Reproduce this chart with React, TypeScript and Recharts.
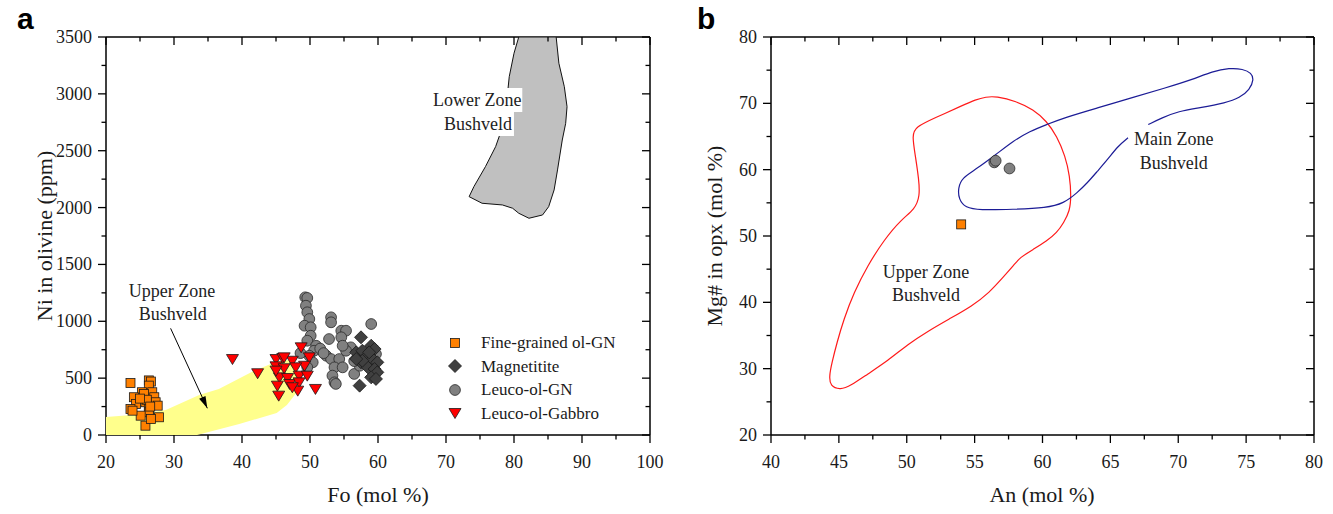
import React from 'react';
import { ScatterChart, Scatter, XAxis, YAxis } from 'recharts';

const SERIF = '"Liberation Serif", "Times New Roman", serif';
const SANS = '"Liberation Sans", Arial, sans-serif';

type Pair = [number, number];

// ---- panel a: Ni in olivine vs Fo ----
const foTicks = [20, 25, 30, 35, 40, 45, 50, 55, 60, 65, 70, 75, 80, 85, 90, 95, 100];
const niTicks = [0, 250, 500, 750, 1000, 1250, 1500, 1750, 2000, 2250, 2500, 2750, 3000, 3250, 3500];

const fineGrainedOlGN: Pair[] = [
  [23.6, 457], [26.3, 480], [26.6, 470], [26.3, 434], [25.3, 376], [26.8, 376], [24.1, 332], [25.6, 361],
  [27.1, 332], [24.4, 273], [25.8, 288], [27.3, 288], [23.6, 229], [26.3, 229], [27.6, 258], [26.3, 200],
  [27.8, 156], [25.8, 82], [26.6, 141], [25.1, 170], [23.9, 214], [26.0, 310], [25.0, 320], [26.5, 250],
];
const magnetitite: Pair[] = [
  [57.5, 859], [56.8, 727], [57.7, 741], [59.0, 785], [59.5, 756], [58.2, 683], [59.2, 668], [59.9, 639],
  [57.5, 639], [58.5, 595], [59.5, 580], [59.9, 551], [59.0, 507], [59.7, 493], [57.3, 434], [57.7, 653],
  [56.8, 668], [58.7, 727],
];
const leucoOlGN: Pair[] = [
  [49.3, 1211], [49.6, 1205], [49.4, 1137], [49.6, 1079], [49.9, 1020], [49.2, 961], [50.1, 947], [50.1, 873],
  [49.6, 829], [50.9, 785], [50.6, 741], [49.9, 697], [50.4, 639], [49.6, 595], [48.6, 720], [51.5, 760],
  [53.1, 1035], [53.1, 991], [54.6, 917], [55.3, 917], [52.8, 844], [54.6, 859], [52.4, 697], [53.1, 668],
  [54.3, 668], [53.6, 595], [54.8, 595], [53.3, 522], [53.6, 463], [53.8, 449], [56.0, 771], [55.3, 741],
  [54.8, 785], [52.0, 720], [59.0, 976], [56.5, 537], [59.7, 712], [57.3, 609], [58.0, 639], [57.0, 700],
  [56.5, 650],
];
const leucoOlGabbro: Pair[] = [
  [38.6, 668], [42.3, 543], [45.0, 668], [46.0, 677], [45.0, 604], [46.2, 587], [47.4, 653], [48.7, 771],
  [49.9, 683], [49.2, 609], [47.9, 595], [45.5, 507], [46.7, 501], [48.4, 522], [49.6, 522], [45.2, 434],
  [47.0, 449], [48.4, 463], [48.2, 390], [45.4, 346], [50.8, 405], [47.4, 420], [45.0, 566], [46.2, 683],
];
// Upper Zone Bushveld field (yellow)
const upperZoneA: Pair[] = [
  [20.0, 158], [23.8, 176], [28.8, 220], [33.7, 352], [36.6, 405], [41.5, 557], [45.0, 645], [46.9, 660],
  [48.2, 554], [48.1, 378], [46.6, 264], [45.1, 193], [39.6, 97], [33.4, 0], [20.0, 0],
];
// Lower Zone Bushveld field (grey)
const lowerZoneA: Pair[] = [
  [86.2, 3500], [86.6, 3269], [87.4, 3063], [87.8, 2887], [87.6, 2741], [87.1, 2594], [86.4, 2331], [85.9, 2155],
  [85.1, 2008], [84.2, 1935], [82.2, 1906], [80.7, 1950], [79.8, 1994], [78.3, 2023], [75.3, 2038], [73.4, 2096],
  [74.1, 2184], [75.8, 2360], [77.3, 2536], [78.5, 2741], [79.0, 2975], [79.3, 3151], [80.0, 3357], [80.7, 3500],
];
const labelsA = [
  { x: 74.6, y: 2946, text: 'Lower Zone', box: true },
  { x: 74.7, y: 2735, text: 'Bushveld', box: true },
  { x: 29.7, y: 1266, text: 'Upper Zone' },
  { x: 29.8, y: 1064, text: 'Bushveld' },
];
const arrowA = [
  { x: 29.5, y: 938 },
  { x: 34.9, y: 235, head: true },
];

// ---- panel b: Mg# in opx vs An ----
const anTicks = [40, 42.5, 45, 47.5, 50, 52.5, 55, 57.5, 60, 62.5, 65, 67.5, 70, 72.5, 75, 77.5, 80];
const mgTicks = [20, 25, 30, 35, 40, 45, 50, 55, 60, 65, 70, 75, 80];

const upperZoneB: Pair[] = [
  [56.58, 71.07], [58.07, 70.32], [59.32, 69.06], [60.31, 67.31], [61.06, 65.05], [61.68, 62.04], [62.01, 59.03],
  [62.11, 56.02], [62.01, 53.76], [61.56, 52.0], [61.06, 50.5], [60.31, 49.24], [59.32, 47.99], [58.32, 46.73],
  [57.95, 45.73], [57.07, 43.72], [56.08, 41.47], [54.83, 39.46], [53.09, 37.45], [51.59, 35.69], [50.09, 33.69],
  [48.6, 31.18], [47.1, 29.17], [45.86, 27.42], [45.11, 26.81], [44.36, 27.32], [44.29, 28.92], [44.49, 30.93],
  [44.86, 33.94], [45.36, 37.45], [46.11, 41.47], [47.1, 45.48], [48.35, 49.49], [49.6, 52.5], [50.59, 54.01],
  [50.97, 56.02], [50.89, 58.52], [50.64, 62.04], [50.39, 65.15], [50.64, 66.45], [52.09, 67.81], [54.08, 69.66],
  [55.08, 70.57], [55.83, 70.97],
];
const mainZoneB: Pair[] = [
  [67.79, 66.8], [68.79, 67.81], [70.03, 68.81], [71.53, 69.31], [73.52, 70.07], [74.52, 70.82], [75.27, 72.07],
  [75.57, 73.58], [75.39, 74.58], [74.77, 75.18], [73.77, 75.33], [72.53, 74.83], [71.03, 73.58], [69.04, 72.32],
  [66.55, 70.82], [64.05, 69.31], [61.56, 67.81], [60.31, 66.8], [59.07, 65.8], [57.82, 64.29], [56.58, 62.29],
  [55.08, 60.03], [54.08, 58.78], [53.78, 57.27], [53.83, 55.51], [54.33, 54.26], [55.33, 53.91], [57.82, 54.01],
  [60.31, 54.26], [61.56, 54.91], [62.56, 56.52], [63.31, 58.02], [64.05, 59.78], [64.8, 61.54], [65.55, 63.54],
  [66.3, 64.8],
];
const leucoOlGNB: Pair[] = [[56.45, 61.1], [56.55, 61.35], [57.57, 60.18]];
const fineGrainedB: Pair[] = [[54.01, 51.75]];
const labelsB = [
  { x: 51.42, y: 44.58, text: 'Upper Zone' },
  { x: 51.42, y: 41.11, text: 'Bushveld' },
  { x: 69.66, y: 64.55, text: 'Main Zone' },
  { x: 69.66, y: 61.03, text: 'Bushveld' },
];

const pts = (a: Pair[]) => a.map(([x, y]) => ({ x, y }));

// symbols
const Square = (p: any) => (
  <rect x={p.cx - 4.5} y={p.cy - 4.5} width={9} height={9} fill="#ff8000" stroke="#1a1a1a" strokeWidth={0.8} />
);
const Diamond = (p: any) => (
  <polygon
    points={`${p.cx},${p.cy - 6.5} ${p.cx + 6.5},${p.cy} ${p.cx},${p.cy + 6.5} ${p.cx - 6.5},${p.cy}`}
    fill="#404040"
    stroke="#1a1a1a"
    strokeWidth={0.8}
  />
);
const Circle = (p: any) => <circle cx={p.cx} cy={p.cy} r={5.4} fill="#808080" stroke="#2a2a2a" strokeWidth={0.8} />;
const TriDown = (p: any) => (
  <polygon
    points={`${p.cx - 6},${p.cy - 4.5} ${p.cx + 6},${p.cy - 4.5} ${p.cx},${p.cy + 5.5}`}
    fill="#ff0000"
    stroke="#1a1a1a"
    strokeWidth={0.8}
  />
);
const Nothing = () => <g />;

const TextLabel = (p: any) => {
  const t: string = p.payload.text;
  const w = t.length * 9;
  return (
    <g>
      {p.payload.box && <rect x={p.cx - w / 2} y={p.cy - 12} width={w} height={24} fill="#fff" />}
      <text x={p.cx} y={p.cy + 6} textAnchor="middle" fontFamily={SERIF} fontSize={18} fill="#222">
        {t}
      </text>
    </g>
  );
};

const ArrowHead = (p: any) =>
  p.payload.head ? (
    <polygon points="0,0 -12,-3.5 -12,3.5" transform={`translate(${p.cx},${p.cy}) rotate(65.4)`} fill="#000" />
  ) : (
    <g />
  );

const legendA = [
  { name: 'Fine-grained ol-GN', shape: Square },
  { name: 'Magnetitite', shape: Diamond },
  { name: 'Leuco-ol-GN', shape: Circle },
  { name: 'Leuco-ol-Gabbro', shape: TriDown },
];

type Side = 'bottom' | 'top' | 'left' | 'right';

const makeTick = (side: Side, major: number) => (props: any) => {
  const { x, y, payload } = props;
  const v = payload.value as number;
  const isMajor = Math.abs(v / major - Math.round(v / major)) < 1e-6;
  const len = isMajor ? 8 : 4.5;
  let line: React.ReactNode;
  if (side === 'bottom' || side === 'top') line = <line x1={x} y1={y} x2={x} y2={y + len} stroke="#000" strokeWidth={1.3} />;
  else line = <line x1={x - len} y1={y} x2={x} y2={y} stroke="#000" strokeWidth={1.3} />;
  return (
    <g>
      {line}
      {isMajor && side === 'bottom' && (
        <text x={x} y={y + 33} textAnchor="middle" fontFamily={SERIF} fontSize={18} fill="#1a1a1a">
          {v}
        </text>
      )}
      {isMajor && side === 'left' && (
        <text x={x - 14} y={y + 6} textAnchor="end" fontFamily={SERIF} fontSize={18} fill="#1a1a1a">
          {v}
        </text>
      )}
    </g>
  );
};

// axes are 1px thick (0 would not be drawn), margins below are reduced by 1 accordingly
function frame(xDomain: [number, number], yDomain: [number, number], xTicks: number[], yTicks: number[], xMajor: number, yMajor: number) {
  const common = {
    type: 'number' as const,
    allowDataOverflow: true,
    tickSize: 0,
    tickMargin: 0,
    tickLine: false,
    interval: 0 as const,
    axisLine: { stroke: '#000', strokeWidth: 1.5 },
  };
  return [
    <XAxis key="xb" dataKey="x" xAxisId={0} orientation="bottom" height={1} domain={xDomain} ticks={xTicks} tick={makeTick('bottom', xMajor)} {...common} />,
    <XAxis key="xt" dataKey="x" xAxisId="top" orientation="top" height={1} domain={xDomain} ticks={xTicks} tick={makeTick('top', xMajor)} {...common} />,
    <YAxis key="yl" dataKey="y" yAxisId={0} orientation="left" width={1} domain={yDomain} ticks={yTicks} tick={makeTick('left', yMajor)} {...common} />,
    <YAxis key="yr" dataKey="y" yAxisId="right" orientation="right" width={1} domain={yDomain} ticks={yTicks} tick={makeTick('right', yMajor)} {...common} />,
  ];
}

const abs = (left: number, top: number): React.CSSProperties => ({ position: 'absolute', left, top });

const Title = ({ x, y, text, rotate }: { x: number; y: number; text: string; rotate?: boolean }) => (
  <div
    style={{
      ...abs(x, y),
      transform: `translate(-50%, -50%)${rotate ? ' rotate(-90deg)' : ''}`,
      fontFamily: SERIF,
      fontSize: 22,
      lineHeight: 1,
      whiteSpace: 'nowrap',
      color: '#1a1a1a',
    }}
  >
    {text}
  </div>
);

export default function App() {
  return (
    <div style={{ position: 'absolute', left: 0, top: 0, width: 1333, height: 514, background: '#fff', overflow: 'hidden' }}>
      <div style={abs(0, 0)}>
        <ScatterChart width={670} height={514} margin={{ top: 36, right: 19, bottom: 78, left: 105 }}>
          {frame([20, 100], [0, 3500], foTicks, niTicks, 10, 500)}
          <Scatter data={pts(upperZoneA)} shape={Nothing} line={{ fill: '#ffff8c', stroke: 'none' }} lineJointType="linear" isAnimationActive={false} />
          <Scatter data={pts(lowerZoneA)} shape={Nothing} line={{ fill: '#c0c0c0', stroke: '#111', strokeWidth: 1 }} lineJointType="linearClosed" isAnimationActive={false} />
          <Scatter data={arrowA} shape={ArrowHead} line={{ stroke: '#000', strokeWidth: 1 }} lineJointType="linear" isAnimationActive={false} />
          <Scatter data={labelsA} shape={TextLabel} isAnimationActive={false} />
          <Scatter data={pts(leucoOlGN)} shape={Circle} isAnimationActive={false} />
          <Scatter data={pts(magnetitite)} shape={Diamond} isAnimationActive={false} />
          <Scatter data={pts(fineGrainedOlGN)} shape={Square} isAnimationActive={false} />
          <Scatter data={pts(leucoOlGabbro)} shape={TriDown} isAnimationActive={false} />
        </ScatterChart>
      </div>
      <div style={abs(667, 0)}>
        <ScatterChart width={666} height={514} margin={{ top: 36, right: 18, bottom: 78, left: 103 }}>
          {frame([40, 80], [20, 80], anTicks, mgTicks, 5, 10)}
          <Scatter data={pts(upperZoneB)} shape={Nothing} line={{ fill: 'none', stroke: '#ff1a1a', strokeWidth: 1.2 }} lineJointType="basisClosed" isAnimationActive={false} />
          <Scatter data={pts(mainZoneB)} shape={Nothing} line={{ fill: 'none', stroke: '#1c1c96', strokeWidth: 1.2 }} lineJointType="basis" isAnimationActive={false} />
          <Scatter data={labelsB} shape={TextLabel} isAnimationActive={false} />
          <Scatter data={pts(leucoOlGNB)} shape={Circle} isAnimationActive={false} />
          <Scatter data={pts(fineGrainedB)} shape={Square} isAnimationActive={false} />
        </ScatterChart>
      </div>

      {/* legend panel a */}
      <div style={{ ...abs(447, 331), fontFamily: SERIF, fontSize: 17, color: '#1a1a1a' }}>
        {legendA.map((item) => {
          const Icon = item.shape;
          return (
            <div key={item.name} style={{ display: 'flex', alignItems: 'center', height: 23.5 }}>
              <svg width={16} height={16} style={{ overflow: 'visible' }}>
                <Icon cx={8} cy={8} />
              </svg>
              <span style={{ marginLeft: 18, lineHeight: 1 }}>{item.name}</span>
            </div>
          );
        })}
      </div>

      <Title x={378} y={495} text="Fo (mol %)" />
      <Title x={45} y={236} text="Ni in olivine (ppm)" rotate />
      <Title x={1042} y={495} text="An (mol %)" />
      <Title x={715} y={236} text="Mg# in opx (mol %)" rotate />

      <div style={{ ...abs(17, 2), fontFamily: SANS, fontWeight: 'bold', fontSize: 30 }}>a</div>
      <div style={{ ...abs(697, 2), fontFamily: SANS, fontWeight: 'bold', fontSize: 30 }}>b</div>
    </div>
  );
}
